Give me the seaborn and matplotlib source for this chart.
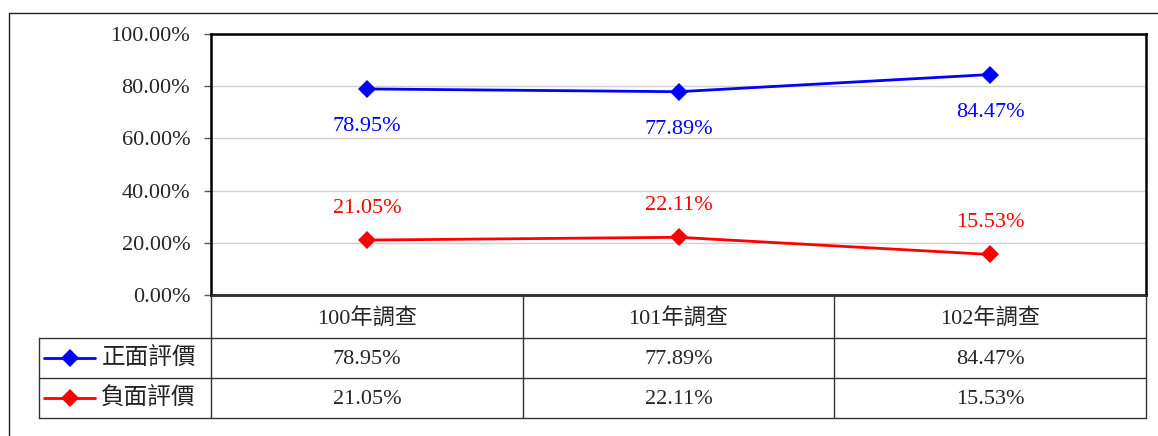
import matplotlib
matplotlib.use("Agg")
import matplotlib.pyplot as plt
from matplotlib.lines import Line2D
from matplotlib.ticker import FuncFormatter
import seaborn as sns
import pandas as pd

# ── data ──────────────────────────────────────────────
surveys = ["100年調查", "101年調查", "102年調查"]
positive = [78.95, 77.89, 84.47]
negative = [21.05, 22.11, 15.53]
series_names = ["正面評價", "負面評價"]
COLORS = {"正面評價": "#0000ff", "負面評價": "#ff0000"}

df = pd.DataFrame({
    "survey": surveys * 2,
    "value": positive + negative,
    "series": [series_names[0]] * 3 + [series_names[1]] * 3,
})
df["pos"] = df["survey"].map({s: i for i, s in enumerate(surveys)})

sns.set_style("white")
plt.rcParams["font.family"] = ["Liberation Serif", "Noto Sans CJK TC"]
FS = 16

W, H = 1158, 436
fig = plt.figure(figsize=(W / 100, H / 100), dpi=100)

def fx(px):
    return px / W

def fy(py):
    return 1 - py / H

# plot area
ax = fig.add_axes([fx(211), fy(295), fx(1146) - fx(211), fy(34) - fy(295)])
sns.lineplot(data=df, x="pos", y="value", hue="series", style="series",
             palette=COLORS, markers={n: "D" for n in series_names},
             dashes=False, markersize=9, markeredgewidth=0, linewidth=2,
             legend=False, ax=ax)
ax.set_xlim(-0.5, len(surveys) - 0.5)
ax.set_ylim(0, 100)
ax.set_yticks(range(0, 101, 20))
ax.yaxis.set_major_formatter(FuncFormatter(lambda v, _: f"{v:.2f}%"))
ax.set_xticks([])
ax.set_xlabel("")
ax.set_ylabel("")
ax.grid(axis="y", color="#d0d0d0", linewidth=1)
ax.tick_params(axis="y", length=5, width=1, color="#555555", direction="out",
               labelsize=FS, pad=10, left=True)
for sp in ax.spines.values():
    sp.set_visible(True)
    sp.set_color("black")
    sp.set_linewidth(1.8)

# data labels
for i, v in enumerate(positive):
    ax.annotate(f"{v:.2f}%", (i, v), xytext=(0, -27), textcoords="offset points",
                ha="center", va="center", color=COLORS["正面評價"], fontsize=FS)
for i, v in enumerate(negative):
    ax.annotate(f"{v:.2f}%", (i, v), xytext=(0, 23), textcoords="offset points",
                ha="center", va="center", color=COLORS["負面評價"], fontsize=FS)

# ── data table under the chart ────────────────────────
legend_w = (211 - 39) / (1146 - 211) * len(surveys)
tab = fig.add_axes([fx(39), fy(418), fx(1146) - fx(39), fy(295) - fy(418)])
tab.set_xlim(-0.5 - legend_w, len(surveys) - 0.5)
tab.set_ylim(418, 295)
tab.axis("off")

rows = [295, 338, 378, 418]
left = -0.5 - legend_w
right = len(surveys) - 0.5
lc = "#333333"
# horizontal lines
tab.plot([-0.5, right], [rows[0], rows[0]], color=lc, lw=1, clip_on=False)
for r in rows[1:]:
    tab.plot([left, right], [r, r], color=lc, lw=1, clip_on=False)
# vertical lines
tab.plot([left, left], [rows[1], rows[3]], color=lc, lw=1, clip_on=False)
for b in [i - 0.5 for i in range(len(surveys) + 1)]:
    tab.plot([b, b], [rows[0], rows[3]], color=lc, lw=1, clip_on=False)

for i, s in enumerate(surveys):
    tab.text(i, (rows[0] + rows[1]) / 2 + 3, s, ha="center", va="center", fontsize=FS)

for k, (name, vals) in enumerate(zip(series_names, [positive, negative])):
    yc = (rows[k + 1] + rows[k + 2]) / 2
    for i, v in enumerate(vals):
        tab.text(i, yc + 1, f"{v:.2f}%", ha="center", va="center", fontsize=FS)
    x0 = left + 0.017
    x1 = left + 0.18
    tab.plot([x0, x1], [yc, yc], color=COLORS[name], lw=2, clip_on=False)
    tab.plot([(x0 + x1) / 2], [yc], marker="D", color=COLORS[name],
             markersize=9, markeredgewidth=0, clip_on=False)
    tab.text(x1 + 0.02, yc, name, ha="left", va="center", fontsize=17,
             color="#222222")

# outer frame
fig.add_artist(Line2D([fx(9), fx(9)], [fy(13), 0], color="#222222", lw=1))
fig.add_artist(Line2D([fx(9), 1], [fy(13), fy(13)], color="#222222", lw=1))

fig.savefig("out.png", dpi=100)
